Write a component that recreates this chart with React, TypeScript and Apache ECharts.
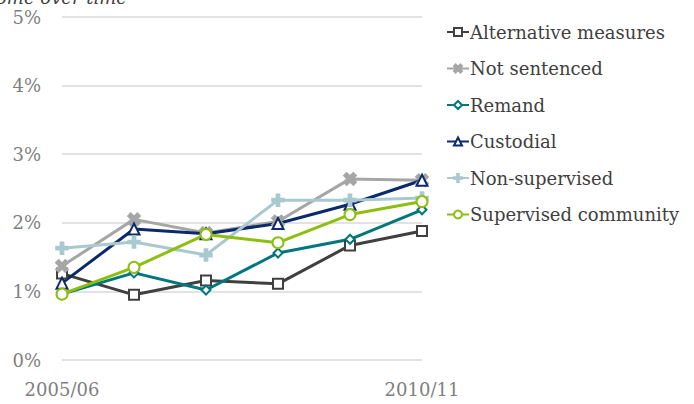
import React, { useEffect, useRef } from "react";
import * as echarts from "echarts";

const categories = ["2005/06", "2006/07", "2007/08", "2008/09", "2009/10", "2010/11"];
const alternativeMeasures = [1.26, 0.95, 1.16, 1.11, 1.67, 1.88];
const notSentenced = [1.37, 2.05, 1.85, 2.02, 2.64, 2.62];
const remand = [0.96, 1.27, 1.02, 1.56, 1.76, 2.19];
const custodial = [1.12, 1.91, 1.84, 1.99, 2.27, 2.62];
const nonSupervised = [1.63, 1.72, 1.53, 2.33, 2.33, 2.36];
const supervisedCommunity = [0.96, 1.35, 1.83, 1.71, 2.12, 2.31];
const yTicks = [0, 1, 2, 3, 4, 5];

const FONT = "DejaVu Serif";
const X_PATH = "path://M0,2L2,0L5,3L8,0L10,2L7,5L10,8L8,10L5,7L2,10L0,8L3,5Z";
const PLUS_PATH = "path://M4,0H6V4H10V6H6V10H4V6H0V4H4Z";

export default function App() {
  const ref = useRef<HTMLDivElement>(null);
  useEffect(() => {
    if (!ref.current) return;
    const chart = echarts.init(ref.current, null, { renderer: "svg" });
    const mk = (name: string, data: number[], color: string, symbol: string, size: number) => ({
      name,
      type: "line",
      data,
      symbol,
      symbolSize: size,
      lineStyle: { color, width: 3 },
      itemStyle: { color, borderColor: color, borderWidth: 2.5 },
      emphasis: { disabled: true },
    });
    chart.setOption({
      animation: false,
      textStyle: { fontFamily: FONT },
      grid: { left: 62, right: 272, top: 17, bottom: 44 },
      xAxis: {
        type: "category",
        data: categories,
        boundaryGap: false,
        axisLine: { show: false },
        axisTick: { show: false },
        axisLabel: {
          interval: (i: number) => i === 0 || i === categories.length - 1,
          color: "#7f7f7f",
          fontSize: 18,
          fontFamily: FONT,
          margin: 20,
        },
      },
      yAxis: {
        type: "value",
        min: yTicks[0],
        max: yTicks[yTicks.length - 1],
        interval: 1,
        axisLabel: {
          formatter: "{value}%",
          color: "#7f7f7f",
          fontSize: 18,
          fontFamily: FONT,
          margin: 21,
        },
        splitLine: { lineStyle: { color: "#d9d9d9", width: 1.5 } },
        axisLine: { show: false },
        axisTick: { show: false },
      },
      legend: {
        orient: "vertical",
        left: 446,
        top: 23,
        padding: 0,
        itemWidth: 22,
        itemHeight: 10,
        itemGap: 18.5,
        textStyle: { color: "#404040", fontSize: 18, fontFamily: FONT, padding: [0, 0, 0, -4] },
        data: [
          "Alternative measures",
          "Not sentenced",
          "Remand",
          "Custodial",
          "Non-supervised",
          "Supervised community",
        ],
      },
      graphic: [
        {
          type: "text",
          right: 567,
          top: -12,
          style: {
            text: "come over time",
            font: "italic 18px 'DejaVu Serif'",
            fill: "#404040",
          },
        },
      ],
      series: [
        mk("Alternative measures", alternativeMeasures, "#404040", "emptyRect", 10),
        mk("Not sentenced", notSentenced, "#a6a6a6", X_PATH, 11),
        mk("Remand", remand, "#00777d", "emptyDiamond", 9),
        mk("Custodial", custodial, "#0c2a6b", "emptyTriangle", 11),
        mk("Non-supervised", nonSupervised, "#a9c9d0", PLUS_PATH, 11),
        mk("Supervised community", supervisedCommunity, "#8cbf0f", "emptyCircle", 11),
      ],
    });
    return () => chart.dispose();
  }, []);
  return <div ref={ref} style={{ width: 694, height: 404, position: "absolute", left: 0, top: 0 }} />;
}
